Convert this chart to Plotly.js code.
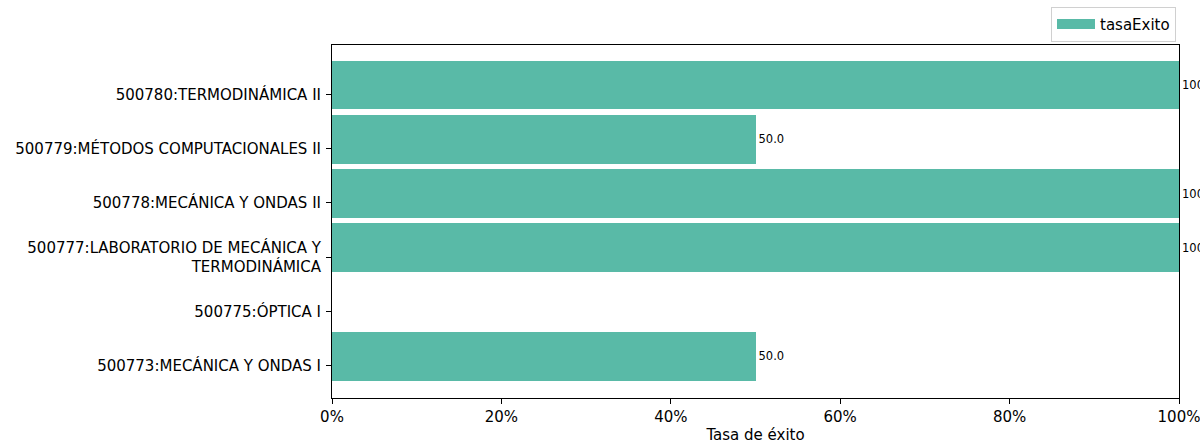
<!DOCTYPE html>
<html>
<head>
<meta charset="utf-8">
<script src="https://cdn.plot.ly/plotly-3.0.1.min.js"></script>
<style>html,body{margin:0;padding:0;background:#fff;}#chart{width:1200px;height:444px;}</style>
</head>
<body>
<div id="chart"></div>
<script>
const categories = [
  "500773:MECÁNICA Y ONDAS I",
  "500775:ÓPTICA I",
  "500777:LABORATORIO DE MECÁNICA Y<br>TERMODINÁMICA",
  "500778:MECÁNICA Y ONDAS II",
  "500779:MÉTODOS COMPUTACIONALES II",
  "500780:TERMODINÁMICA II"
];
const tasaExito = [50.0, 0.0, 100.0, 100.0, 50.0, 100.0];
const xTickVals = [0, 20, 40, 60, 80, 100];
const xTickLabels = ["0%", "20%", "40%", "60%", "80%", "100%"];
const seriesName = "tasaExito";

const barColor = "#59baa7";
const labels = tasaExito.map(v => v > 0 ? v.toFixed(1) : "");

const traces = [
  {
    type: "bar",
    orientation: "h",
    y: categories,
    x: tasaExito,
    width: 0.9,
    offset: -0.28,
    marker: {color: barColor, line: {width: 0}},
    text: labels,
    textposition: "outside",
    cliponaxis: false,
    constraintext: "none",
    textfont: {family: "DejaVu Sans", size: 11.5, color: "#000"},
    showlegend: false,
    hoverinfo: "skip"
  },
  {
    type: "scatter",
    mode: "lines",
    x: [null],
    y: [null],
    name: seriesName,
    line: {color: barColor, width: 10},
    showlegend: true,
    hoverinfo: "skip"
  }
];

const layout = {
  width: 1200,
  height: 444,
  margin: {l: 332, r: 21, t: 45, b: 46, autoexpand: false},
  paper_bgcolor: "#fff",
  plot_bgcolor: "#fff",
  font: {family: "DejaVu Sans", size: 15, color: "#000"},
  bargap: 0,
  xaxis: {
    range: [0, 100],
    tickmode: "array",
    tickvals: xTickVals,
    ticktext: xTickLabels,
    ticklabeloverflow: "allow",
    showgrid: false,
    zeroline: false,
    showline: true,
    linecolor: "#000",
    linewidth: 1,
    mirror: true,
    ticks: "outside",
    ticklen: 5,
    tickcolor: "#000",
    tickfont: {size: 15},
    title: {text: "Tasa de éxito", font: {size: 15}, standoff: 6}
  },
  yaxis: {
    type: "category",
    categoryorder: "array",
    categoryarray: categories,
    range: [-0.595, 5.908],
    showgrid: false,
    zeroline: false,
    showline: true,
    linecolor: "#000",
    linewidth: 1,
    mirror: true,
    ticks: "outside",
    ticklen: 5,
    tickcolor: "#000",
    ticklabelstandoff: 2,
    tickfont: {size: 15}
  },
  legend: {
    xref: "container",
    yref: "container",
    x: 0.98,
    xanchor: "right",
    y: 0.985,
    yanchor: "top",
    bgcolor: "#fff",
    bordercolor: "#d0d0d0",
    borderwidth: 1,
    font: {size: 15},
    itemwidth: 38
  },
  showlegend: true
};

Plotly.newPlot("chart", traces, layout, {staticPlot: true, displayModeBar: false});
</script>
</body>
</html>
